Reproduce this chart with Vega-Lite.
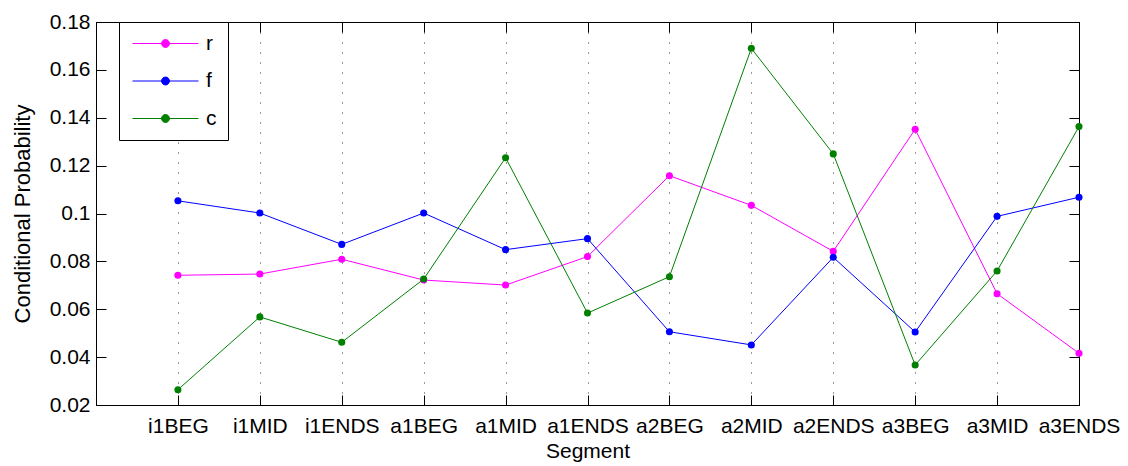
{
  "$schema": "https://vega.github.io/schema/vega-lite/v6.json",
  "width": 983,
  "height": 383,
  "autosize": "none",
  "padding": {"left": 96, "top": 22, "right": 49, "bottom": 61},
  "background": "white",
  "config": {
    "view": {"stroke": "black", "strokeWidth": 1},
    "font": "Liberation Sans",
    "axis": {
      "labelFont": "Liberation Sans",
      "titleFont": "Liberation Sans",
      "labelColor": "black",
      "titleColor": "black",
      "labelFontSize": 21,
      "titleFontSize": 21,
      "titleFontWeight": "normal",
      "domainColor": "black",
      "tickColor": "black",
      "domainWidth": 1,
      "tickWidth": 1
    },
    "legend": {"labelFont": "Liberation Sans"}
  },
  "data": {
    "values": [
      {"idx": 1, "seg": "i1BEG", "series": "r", "p": 0.0742},
      {"idx": 2, "seg": "i1MID", "series": "r", "p": 0.0747},
      {"idx": 3, "seg": "i1ENDS", "series": "r", "p": 0.0809},
      {"idx": 4, "seg": "a1BEG", "series": "r", "p": 0.0722},
      {"idx": 5, "seg": "a1MID", "series": "r", "p": 0.0701},
      {"idx": 6, "seg": "a1ENDS", "series": "r", "p": 0.0820},
      {"idx": 7, "seg": "a2BEG", "series": "r", "p": 0.1158},
      {"idx": 8, "seg": "a2MID", "series": "r", "p": 0.1034},
      {"idx": 9, "seg": "a2ENDS", "series": "r", "p": 0.0842},
      {"idx": 10, "seg": "a3BEG", "series": "r", "p": 0.1352},
      {"idx": 11, "seg": "a3MID", "series": "r", "p": 0.0665},
      {"idx": 12, "seg": "a3ENDS", "series": "r", "p": 0.0416},
      {"idx": 1, "seg": "i1BEG", "series": "f", "p": 0.1053},
      {"idx": 2, "seg": "i1MID", "series": "f", "p": 0.1002},
      {"idx": 3, "seg": "i1ENDS", "series": "f", "p": 0.0871},
      {"idx": 4, "seg": "a1BEG", "series": "f", "p": 0.1002},
      {"idx": 5, "seg": "a1MID", "series": "f", "p": 0.0849},
      {"idx": 6, "seg": "a1ENDS", "series": "f", "p": 0.0895},
      {"idx": 7, "seg": "a2BEG", "series": "f", "p": 0.0506},
      {"idx": 8, "seg": "a2MID", "series": "f", "p": 0.0451},
      {"idx": 9, "seg": "a2ENDS", "series": "f", "p": 0.0817},
      {"idx": 10, "seg": "a3BEG", "series": "f", "p": 0.0505},
      {"idx": 11, "seg": "a3MID", "series": "f", "p": 0.0988},
      {"idx": 12, "seg": "a3ENDS", "series": "f", "p": 0.1068},
      {"idx": 1, "seg": "i1BEG", "series": "c", "p": 0.0264},
      {"idx": 2, "seg": "i1MID", "series": "c", "p": 0.0568},
      {"idx": 3, "seg": "i1ENDS", "series": "c", "p": 0.0462},
      {"idx": 4, "seg": "a1BEG", "series": "c", "p": 0.0726},
      {"idx": 5, "seg": "a1MID", "series": "c", "p": 0.1233},
      {"idx": 6, "seg": "a1ENDS", "series": "c", "p": 0.0584},
      {"idx": 7, "seg": "a2BEG", "series": "c", "p": 0.0736},
      {"idx": 8, "seg": "a2MID", "series": "c", "p": 0.1690},
      {"idx": 9, "seg": "a2ENDS", "series": "c", "p": 0.1249},
      {"idx": 10, "seg": "a3BEG", "series": "c", "p": 0.0367},
      {"idx": 11, "seg": "a3MID", "series": "c", "p": 0.0760},
      {"idx": 12, "seg": "a3ENDS", "series": "c", "p": 0.1363}
    ]
  },
  "layer": [
    {
      "mark": {"type": "line", "strokeWidth": 1},
      "encoding": {
        "x": {
          "field": "idx", "type": "quantitative",
          "scale": {"domain": [0, 12], "nice": false, "zero": false},
          "axis": {
            "orient": "bottom",
            "title": "Segment",
            "titlePadding": 4,
            "values": [1, 2, 3, 4, 5, 6, 7, 8, 9, 10, 11, 12],
            "labelExpr": "['','i1BEG','i1MID','i1ENDS','a1BEG','a1MID','a1ENDS','a2BEG','a2MID','a2ENDS','a3BEG','a3MID','a3ENDS'][datum.value]",
            "labelOverlap": false,
            "labelBound": false,
            "labelFlush": false,
            "tickSize": -10,
            "labelPadding": 20,
            "grid": true,
            "gridColor": "#333333",
            "gridDash": [1, 9],
            "gridWidth": 1
          }
        },
        "y": {
          "field": "p", "type": "quantitative",
          "scale": {"domain": [0.02, 0.18], "nice": false, "zero": false},
          "axis": {
            "orient": "left",
            "title": "Conditional Probability",
            "titleFontSize": 22,
            "values": [0.02, 0.04, 0.06, 0.08, 0.1, 0.12, 0.14, 0.16, 0.18],
            "format": ".2~f",
            "tickSize": -10,
            "labelPadding": 16,
            "labelFlush": false,
            "labelOverlap": false,
            "titlePadding": 15,
            "grid": false
          }
        },
        "color": {
          "field": "series", "type": "nominal",
          "scale": {"domain": ["r", "f", "c"], "range": ["#ff00ff", "#0000ff", "#008000"]},
          "legend": {
            "title": null,
            "orient": "none",
            "legendX": 23,
            "legendY": 0,
            "direction": "vertical",
            "fillColor": "white",
            "strokeColor": "black",
            "padding": 11,
            "symbolOffset": 2,
            "symbolType": "M-1,0H1M0.12,0A0.12,0.12,0,1,1,-0.12,0A0.12,0.12,0,1,1,0.12,0Z",
            "symbolSize": 4356,
            "symbolStrokeWidth": 1,
            "clipHeight": 21,
            "rowPadding": 15.5,
            "labelFontSize": 21,
            "labelColor": "black",
            "labelOffset": 7,
            "encode": {
              "symbols": {"update": {"fill": {"signal": "scale('color', datum.value)"}}}
            }
          }
        }
      }
    },
    {
      "mark": {"type": "point", "filled": true, "size": 50, "opacity": 1},
      "encoding": {
        "x": {
          "field": "idx", "type": "quantitative",
          "axis": {
            "orient": "top",
            "title": null,
            "values": [1, 2, 3, 4, 5, 6, 7, 8, 9, 10, 11, 12],
            "labels": false,
            "tickSize": -10,
            "grid": false
          }
        },
        "y": {
          "field": "p", "type": "quantitative",
          "axis": {
            "orient": "right",
            "title": null,
            "values": [0.02, 0.04, 0.06, 0.08, 0.1, 0.12, 0.14, 0.16, 0.18],
            "labels": false,
            "tickSize": -10,
            "grid": false
          }
        },
        "color": {"field": "series", "type": "nominal"}
      }
    }
  ],
  "resolve": {"axis": {"x": "independent", "y": "independent"}}
}
